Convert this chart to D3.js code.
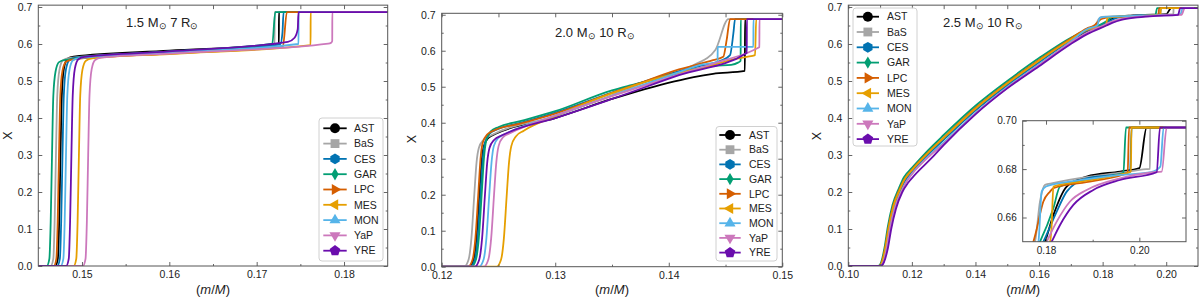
<!DOCTYPE html>
<html>
<head>
<meta charset="utf-8">
<script src="https://cdn.jsdelivr.net/npm/d3@7"></script>
<style>
  body { margin: 0; background: #fff; }
  svg { display: block; font-family: "Liberation Sans", Arial, sans-serif; }
</style>
</head>
<body>
<div class="fig"></div>
<script>
// models, legend order
var models = ["AST", "BaS", "CES", "GAR", "LPC", "MES", "MON", "YaP", "YRE"];
var palette = ["#000000", "#a6a6a6", "#0173b2", "#029e73", "#d55e00", "#e69f00", "#56b4e9", "#cc78bc", "#6a0dad"];
var shapes = ["circle", "square", "hexagon", "thin_diamond", "tri_right", "tri_left", "tri_up", "tri_down", "pentagon"];

// panel titles: [mass, radius]
var titles = [["1.5", "7"], ["2.0", "10"], ["2.5", "10"]];

// ticks
var yTicks = [0, 0.1, 0.2, 0.3, 0.4, 0.5, 0.6, 0.7];
var yMinor = [0.05, 0.15, 0.25, 0.35, 0.45, 0.55, 0.65];
var p15XTicks = [0.15, 0.16, 0.17, 0.18];
var p15XMinor = [0.155, 0.165, 0.175];
var p20XTicks = [0.12, 0.13, 0.14, 0.15];
var p20XMinor = [0.125, 0.135, 0.145];
var p25XTicks = [0.10, 0.12, 0.14, 0.16, 0.18, 0.20];
var p25XMinor = [0.11, 0.13, 0.15, 0.17, 0.19];
var insetXTicks = [0.18, 0.20];
var insetXMinor = [0.19];
var insetYTicks = [0.66, 0.68, 0.70];
var insetYMinor = [0.67, 0.69];

// 1.5 Msun, 7 Rsun : [m/M, X]
var p15_AST = [[0.145,0],[0.14694,0],[0.14724,0.02],[0.14739,0.12],[0.14754,0.3],[0.14769,0.46],[0.14794,0.535],[0.14834,0.56],[0.14904,0.566],[0.16,0.582],[0.17254,0.600],[0.17255,0.686],[0.185,0.686]];
var p15_BaS = [[0.145,0],[0.14642,0],[0.14672,0.02],[0.14687,0.12],[0.14702,0.3],[0.14717,0.46],[0.14742,0.53],[0.14782,0.556],[0.14852,0.562],[0.16,0.579],[0.17205,0.596],[0.17206,0.686],[0.185,0.686]];
var p15_CES = [[0.145,0],[0.14717,0],[0.14747,0.02],[0.14762,0.12],[0.14777,0.3],[0.14792,0.46],[0.14817,0.532],[0.14857,0.557],[0.14927,0.563],[0.16,0.579],[0.1727,0.599],[0.17295,0.63],[0.17308,0.686],[0.185,0.686]];
var p15_GAR = [[0.145,0],[0.14597,0],[0.14627,0.02],[0.14642,0.12],[0.14657,0.3],[0.14672,0.46],[0.14697,0.525],[0.14737,0.551],[0.14807,0.557],[0.16,0.579],[0.17179,0.601],[0.17213,0.686],[0.185,0.686]];
var p15_LPC = [[0.145,0],[0.14677,0],[0.14707,0.02],[0.14722,0.12],[0.14737,0.3],[0.14752,0.46],[0.14777,0.528],[0.14817,0.552],[0.14887,0.558],[0.16,0.574],[0.173,0.593],[0.17346,0.686],[0.185,0.686]];
var p15_MES = [[0.145,0],[0.14905,0],[0.14935,0.02],[0.1495,0.12],[0.14965,0.3],[0.1498,0.46],[0.15005,0.53],[0.15045,0.555],[0.15115,0.561],[0.16,0.573],[0.17617,0.597],[0.17618,0.686],[0.185,0.686]];
var p15_MON = [[0.145,0],[0.14757,0],[0.14787,0.02],[0.14802,0.12],[0.14817,0.3],[0.14832,0.46],[0.14857,0.53],[0.14897,0.556],[0.14967,0.562],[0.16,0.577],[0.17479,0.600],[0.1748,0.686],[0.185,0.686]];
var p15_YaP = [[0.145,0],[0.15011,0],[0.15041,0.02],[0.15056,0.12],[0.15071,0.3],[0.15086,0.46],[0.15111,0.532],[0.15151,0.557],[0.15221,0.563],[0.16,0.574],[0.1782,0.601],[0.1785,0.603],[0.17865,0.608],[0.17866,0.686],[0.185,0.686]];
var p15_YRE = [[0.145,0],[0.14819,0],[0.14849,0.02],[0.14864,0.12],[0.14879,0.3],[0.14894,0.46],[0.14919,0.534],[0.14959,0.559],[0.15029,0.565],[0.16,0.58],[0.17357,0.606],[0.17434,0.617],[0.1747,0.64],[0.17479,0.686],[0.185,0.686]];

// 2.0 Msun, 10 Rsun
var p20_AST = [[0.12,0],[0.12241,0],[0.12281,0.02],[0.12306,0.08],[0.12331,0.2],[0.12351,0.29],[0.12371,0.335],[0.12411,0.358],[0.12481,0.37],[0.13,0.413],[0.135,0.466],[0.1405,0.515],[0.1422,0.527],[0.1439,0.536],[0.1467,0.544],[0.14672,0.688],[0.15,0.688]];
var p20_BaS = [[0.12,0],[0.12197,0],[0.12237,0.02],[0.12262,0.08],[0.12287,0.2],[0.12307,0.29],[0.12327,0.33],[0.12367,0.352],[0.12437,0.365],[0.13,0.418],[0.135,0.477],[0.139,0.525],[0.1422,0.56],[0.1441,0.602],[0.14525,0.688],[0.15,0.688]];
var p20_CES = [[0.12,0],[0.12252,0],[0.12292,0.02],[0.12317,0.08],[0.12342,0.2],[0.12362,0.3],[0.12382,0.345],[0.12422,0.37],[0.12492,0.382],[0.127,0.4],[0.13,0.428],[0.135,0.484],[0.14,0.535],[0.1425,0.556],[0.1445,0.571],[0.1454,0.588],[0.14569,0.648],[0.14584,0.688],[0.15,0.688]];
var p20_GAR = [[0.12,0],[0.12262,0],[0.12302,0.02],[0.12327,0.08],[0.12352,0.2],[0.12372,0.3],[0.12392,0.35],[0.12432,0.376],[0.12502,0.388],[0.127,0.405],[0.13,0.432],[0.135,0.49],[0.1365,0.503],[0.14,0.53],[0.1425,0.55],[0.144,0.558],[0.1455,0.561],[0.1461,0.567],[0.14633,0.572],[0.14634,0.688],[0.15,0.688]];
var p20_LPC = [[0.12,0],[0.12232,0],[0.12272,0.02],[0.12297,0.08],[0.12322,0.2],[0.12342,0.3],[0.12362,0.345],[0.12402,0.368],[0.12472,0.38],[0.127,0.398],[0.13,0.425],[0.135,0.483],[0.137,0.505],[0.1409,0.548],[0.1439,0.574],[0.1448,0.583],[0.1451,0.63],[0.1454,0.688],[0.15,0.688]];
var p20_MES = [[0.12,0],[0.12483,0],[0.12523,0.02],[0.12548,0.08],[0.12573,0.2],[0.12593,0.29],[0.12613,0.335],[0.12653,0.362],[0.12723,0.378],[0.13,0.418],[0.135,0.482],[0.14,0.532],[0.1439,0.56],[0.1454,0.574],[0.14687,0.583],[0.1476,0.588],[0.1477,0.688],[0.15,0.688]];
var p20_MON = [[0.12,0],[0.12329,0],[0.12369,0.02],[0.12394,0.08],[0.12419,0.2],[0.12439,0.29],[0.12459,0.335],[0.12499,0.358],[0.12569,0.37],[0.13,0.42],[0.135,0.475],[0.14,0.53],[0.143,0.562],[0.1443,0.569],[0.14431,0.611],[0.14745,0.611],[0.14746,0.688],[0.15,0.688]];
var p20_YaP = [[0.12,0],[0.12371,0],[0.12411,0.02],[0.12436,0.08],[0.12461,0.2],[0.12481,0.29],[0.12501,0.335],[0.12541,0.36],[0.12611,0.372],[0.13,0.42],[0.135,0.474],[0.14,0.525],[0.1445,0.57],[0.147,0.595],[0.1478,0.607],[0.14798,0.61],[0.14799,0.688],[0.15,0.688]];
var p20_YRE = [[0.12,0],[0.12291,0],[0.12331,0.02],[0.12356,0.08],[0.12381,0.2],[0.12401,0.29],[0.12421,0.33],[0.12461,0.352],[0.12531,0.365],[0.126,0.375],[0.13,0.413],[0.135,0.466],[0.1409,0.532],[0.14687,0.594],[0.14688,0.688],[0.15,0.688]];

// 2.5 Msun, 10 Rsun
var p25_AST = [[0.1,0],[0.1098,0],[0.1108,0.012],[0.1118,0.05],[0.1128,0.103],[0.1143,0.162],[0.1163,0.205],[0.1178,0.232],[0.12,0.256],[0.125,0.302],[0.13,0.343],[0.14,0.422],[0.15,0.49],[0.16,0.552],[0.17,0.61],[0.175,0.634],[0.17979,0.65],[0.18157,0.661],[0.18443,0.6728],[0.18871,0.6769],[0.19586,0.679],[0.2,0.6804],[0.20157,0.6972],[0.21,0.6972]];
var p25_BaS = [[0.1,0],[0.1098,0],[0.1108,0.012],[0.1118,0.05],[0.1128,0.103],[0.1143,0.162],[0.1163,0.206],[0.1178,0.233],[0.12,0.256],[0.125,0.302],[0.13,0.343],[0.14,0.423],[0.15,0.491],[0.16,0.553],[0.17,0.612],[0.175,0.64],[0.17764,0.65],[0.17871,0.6666],[0.17979,0.6735],[0.1814,0.6742],[0.19,0.677],[0.196,0.6785],[0.2015,0.68],[0.20228,0.6801],[0.20229,0.6972],[0.21,0.6972]];
var p25_CES = [[0.1,0],[0.1099,0],[0.1109,0.012],[0.1119,0.05],[0.1129,0.102],[0.1144,0.16],[0.1164,0.204],[0.1179,0.23],[0.12,0.253],[0.125,0.3],[0.13,0.341],[0.14,0.421],[0.15,0.489],[0.16,0.551],[0.17,0.61],[0.175,0.636],[0.17943,0.65],[0.18229,0.6624],[0.18443,0.6707],[0.18871,0.6762],[0.19586,0.6779],[0.198,0.6787],[0.19836,0.6972],[0.21,0.6972]];
var p25_GAR = [[0.1,0],[0.1094,0],[0.1104,0.012],[0.1114,0.05],[0.1124,0.105],[0.1139,0.165],[0.1159,0.21],[0.1175,0.24],[0.12,0.265],[0.125,0.312],[0.13,0.354],[0.14,0.433],[0.15,0.5],[0.16,0.562],[0.17,0.617],[0.175,0.638],[0.17871,0.65],[0.18157,0.6638],[0.183,0.6728],[0.19,0.676],[0.19657,0.6783],[0.19714,0.6972],[0.21,0.6972]];
var p25_LPC = [[0.1,0],[0.1096,0],[0.1106,0.012],[0.1116,0.05],[0.1126,0.103],[0.1141,0.162],[0.1161,0.207],[0.1177,0.235],[0.12,0.26],[0.125,0.306],[0.13,0.347],[0.14,0.427],[0.15,0.495],[0.16,0.557],[0.17,0.615],[0.175,0.642],[0.17729,0.65],[0.17786,0.6541],[0.17943,0.6666],[0.18086,0.6707],[0.18157,0.6721],[0.19,0.675],[0.1975,0.6785],[0.1978,0.6972],[0.21,0.6972]];
var p25_MES = [[0.1,0],[0.1097,0],[0.1107,0.012],[0.1117,0.05],[0.1127,0.103],[0.1142,0.161],[0.1162,0.206],[0.1177,0.234],[0.12,0.259],[0.125,0.305],[0.13,0.346],[0.14,0.425],[0.15,0.493],[0.16,0.555],[0.17,0.612],[0.175,0.638],[0.18086,0.65],[0.18121,0.6569],[0.18157,0.6728],[0.188,0.675],[0.1955,0.6776],[0.1982,0.679],[0.1983,0.6972],[0.21,0.6972]];
var p25_MON = [[0.1,0],[0.1101,0],[0.1111,0.011],[0.1121,0.048],[0.1131,0.1],[0.1146,0.156],[0.1166,0.2],[0.1181,0.226],[0.12,0.249],[0.125,0.295],[0.13,0.333],[0.14,0.414],[0.15,0.484],[0.16,0.545],[0.17,0.607],[0.175,0.64],[0.17836,0.65],[0.17907,0.6707],[0.18,0.6728],[0.185,0.6748],[0.19,0.6762],[0.196,0.6776],[0.2025,0.6787],[0.2045,0.681],[0.2052,0.6972],[0.21,0.6972]];
var p25_YaP = [[0.1,0],[0.1101,0],[0.1111,0.011],[0.1121,0.048],[0.1131,0.099],[0.1146,0.155],[0.1166,0.199],[0.1181,0.225],[0.12,0.248],[0.125,0.293],[0.13,0.33],[0.14,0.412],[0.15,0.482],[0.16,0.543],[0.17,0.604],[0.175,0.63],[0.18014,0.65],[0.18229,0.6583],[0.18514,0.6666],[0.18871,0.6714],[0.19586,0.6762],[0.203,0.6787],[0.2048,0.679],[0.20586,0.6972],[0.21,0.6972]];
var p25_YRE = [[0.1,0],[0.1102,0],[0.1112,0.01],[0.1125,0.05],[0.1135,0.1],[0.115,0.155],[0.117,0.2],[0.1188,0.225],[0.121,0.247],[0.126,0.29],[0.13,0.327],[0.14,0.41],[0.15,0.48],[0.16,0.54],[0.17,0.6],[0.175,0.626],[0.18121,0.65],[0.183,0.6569],[0.18586,0.6652],[0.19014,0.6714],[0.19586,0.6755],[0.20371,0.6787],[0.20443,0.6972],[0.21,0.6972]];

var p15Series = [p15_AST, p15_BaS, p15_CES, p15_GAR, p15_LPC, p15_MES, p15_MON, p15_YaP, p15_YRE];
var p20Series = [p20_AST, p20_BaS, p20_CES, p20_GAR, p20_LPC, p20_MES, p20_MON, p20_YaP, p20_YRE];
var p25Series = [p25_AST, p25_BaS, p25_CES, p25_GAR, p25_LPC, p25_MES, p25_MON, p25_YaP, p25_YRE];

var color = d3.scaleOrdinal().domain(models).range(palette);
var frameColor = "#555";
var textColor = "#222";

var svg = d3.select(".fig").append("svg")
    .attr("width", 1200)
    .attr("height", 300);

var clipId = 0;

function polygon(n, r, start) {
    var pts = d3.range(n).map(function (i) {
        var a = (start + i * 360 / n) * Math.PI / 180;
        return [r * Math.cos(a), r * Math.sin(a)];
    });
    return "M" + pts.join("L") + "Z";
}

function markerPath(shape) {
    switch (shape) {
        case "circle": return d3.symbol(d3.symbolCircle, 78)();
        case "square": return d3.symbol(d3.symbolSquare, 78)();
        case "hexagon": return polygon(6, 5.4, -90);
        case "pentagon": return polygon(5, 5.6, -90);
        case "thin_diamond": return "M0,-6.2L3.6,0L0,6.2L-3.6,0Z";
        case "tri_up": return polygon(3, 6.4, -90);
        case "tri_down": return polygon(3, 6.4, 90);
        case "tri_right": return polygon(3, 6.4, 0);
        case "tri_left": return polygon(3, 6.4, 180);
    }
}

function styleAxis(sel, fontSize) {
    sel.select(".domain").remove();
    sel.selectAll(".tick line").attr("stroke", frameColor).attr("stroke-width", 0.9);
    sel.selectAll(".tick text")
        .attr("fill", textColor)
        .attr("font-size", fontSize)
        .attr("font-family", "Liberation Sans, Arial, sans-serif");
}

// frame + inward ticks on all four sides
function drawAxes(g, x, y, c, fontSize, xFmt, yFmt) {
    var major = 4, minor = 2;
    g.append("g").attr("transform", "translate(0," + c.bottom + ")")
        .call(d3.axisBottom(x).tickValues(c.xTicks).tickSize(-major).tickPadding(5).tickFormat(d3.format(xFmt)))
        .call(styleAxis, fontSize);
    g.append("g").attr("transform", "translate(0," + c.bottom + ")")
        .call(d3.axisBottom(x).tickValues(c.xMinor).tickSize(-minor).tickFormat(""))
        .call(styleAxis, fontSize);
    g.append("g").attr("transform", "translate(0," + c.top + ")")
        .call(d3.axisTop(x).tickValues(c.xTicks.concat(c.xMinor)).tickSize(-major).tickFormat(""))
        .call(styleAxis, fontSize);
    g.append("g").attr("transform", "translate(" + c.left + ",0)")
        .call(d3.axisLeft(y).tickValues(c.yTicks).tickSize(-major).tickPadding(6).tickFormat(d3.format(yFmt)))
        .call(styleAxis, fontSize);
    g.append("g").attr("transform", "translate(" + c.left + ",0)")
        .call(d3.axisLeft(y).tickValues(c.yMinor).tickSize(-minor).tickFormat(""))
        .call(styleAxis, fontSize);
    g.append("g").attr("transform", "translate(" + c.right + ",0)")
        .call(d3.axisRight(y).tickValues(c.yTicks).tickSize(-major).tickFormat(""))
        .call(styleAxis, fontSize);
    g.append("g").attr("transform", "translate(" + c.right + ",0)")
        .call(d3.axisRight(y).tickValues(c.yMinor).tickSize(-minor).tickFormat(""))
        .call(styleAxis, fontSize);
    g.append("rect")
        .attr("x", c.left).attr("y", c.top)
        .attr("width", c.right - c.left).attr("height", c.bottom - c.top)
        .attr("fill", "none").attr("stroke", frameColor).attr("stroke-width", 1);
}

function drawCurves(g, x, y, c, series, bg) {
    var id = "clip" + (clipId++);
    g.append("clipPath").attr("id", id).append("rect")
        .attr("x", c.left).attr("y", c.top)
        .attr("width", c.right - c.left).attr("height", c.bottom - c.top);
    if (bg) {
        g.append("rect")
            .attr("x", c.left).attr("y", c.top)
            .attr("width", c.right - c.left).attr("height", c.bottom - c.top)
            .attr("fill", bg);
    }
    var line = d3.line()
        .x(d => x(d[0]))
        .y(d => y(d[1]))
        .curve(d3.curveMonotoneX);
    g.append("g")
        .attr("clip-path", "url(#" + id + ")")
        .attr("fill", "none")
        .attr("stroke-width", 1.8)
        .attr("stroke-linejoin", "round")
        .selectAll("path")
        .data(series)
        .join("path")
        .attr("stroke", (d, i) => color(models[i]))
        .attr("d", line);
}

function drawLegend(g, L) {
    g.append("rect")
        .attr("x", L.x0).attr("y", L.y0)
        .attr("width", L.x1 - L.x0).attr("height", L.y1 - L.y0)
        .attr("rx", 3)
        .attr("fill", "#fff").attr("fill-opacity", 0.85)
        .attr("stroke", "#d0d0d0").attr("stroke-width", 1);
    var row = g.append("g").selectAll("g")
        .data(models)
        .join("g")
        .attr("transform", (d, i) => "translate(0," + (L.first + i * L.step) + ")");
    row.append("line")
        .attr("x1", L.lx0).attr("x2", L.lx1)
        .attr("stroke", d => color(d)).attr("stroke-width", 1.8);
    row.append("path")
        .attr("transform", "translate(" + ((L.lx0 + L.lx1) / 2) + ",0)")
        .attr("d", (d, i) => markerPath(shapes[i]))
        .attr("fill", d => color(d));
    row.append("text")
        .attr("x", L.tx)
        .attr("dy", "0.36em")
        .attr("font-size", 10.5)
        .attr("fill", textColor)
        .text(d => d);
}

function drawTitle(g, t, px, py) {
    var text = g.append("text")
        .attr("x", px).attr("y", py)
        .attr("font-size", 13)
        .attr("fill", textColor);
    text.append("tspan").text(t[0] + " M");
    text.append("tspan").attr("font-size", 9).attr("dy", 2.5).text("\u2299");
    text.append("tspan").attr("dy", -2.5).text(" " + t[1] + " R");
    text.append("tspan").attr("font-size", 9).attr("dy", 2.5).text("\u2299");
}

function drawLabels(g, c, yx, yy) {
    var xl = g.append("text")
        .attr("x", (c.left + c.right) / 2).attr("y", 294)
        .attr("text-anchor", "middle")
        .attr("font-size", 13)
        .attr("fill", textColor);
    xl.append("tspan").text("(");
    xl.append("tspan").attr("font-style", "italic").text("m");
    xl.append("tspan").text("/");
    xl.append("tspan").attr("font-style", "italic").text("M");
    xl.append("tspan").text(")");
    g.append("text")
        .attr("transform", "translate(" + yx + "," + yy + ") rotate(-90)")
        .attr("text-anchor", "middle")
        .attr("font-size", 12.5)
        .attr("fill", textColor)
        .text("X");
}

function drawPanel(c) {
    var g = svg.append("g");
    var x = d3.scaleLinear().domain(c.xDomain).range([c.left, c.right]);
    var y = d3.scaleLinear().domain(c.yDomain).range([c.bottom, c.top]);
    drawCurves(g, x, y, c, c.series);
    drawAxes(g, x, y, c, 10.5, ".2f", ".1f");
    drawTitle(g, c.title, c.titleX, c.titleY);
    drawLabels(g, c, c.labelX, c.labelY);
    return g;
}

//panel 1
var g1 = drawPanel({
    left: 38.3, right: 387.7, top: 5.15, bottom: 266,
    xDomain: [0.145, 0.185], yDomain: [0, 0.705],
    xTicks: p15XTicks, xMinor: p15XMinor, yTicks: yTicks, yMinor: yMinor,
    series: p15Series, title: titles[0], titleX: 126, titleY: 26.7,
    labelX: 12, labelY: 135.5
});
drawLegend(g1, { x0: 319, x1: 383, y0: 118, y1: 261, first: 128.3, step: 15.3, lx0: 323.3, lx1: 346.7, tx: 354 });

//panel 2
var g2 = drawPanel({
    left: 441.7, right: 782.3, top: 13.3, bottom: 266.7,
    xDomain: [0.12, 0.15], yDomain: [0, 0.704],
    xTicks: p20XTicks, xMinor: p20XMinor, yTicks: yTicks, yMinor: yMinor,
    series: p20Series, title: titles[1], titleX: 555, titleY: 36.5,
    labelX: 416, labelY: 139
});
drawLegend(g2, { x0: 716, x1: 777, y0: 126.5, y1: 261, first: 135, step: 14.7, lx0: 719.3, lx1: 740.7, tx: 749 });

//panel 3
var c3 = {
    left: 848.3, right: 1198, top: 5.15, bottom: 266,
    xDomain: [0.10, 0.21], yDomain: [0, 0.705],
    xTicks: p25XTicks, xMinor: p25XMinor, yTicks: yTicks, yMinor: yMinor,
    series: p25Series, title: titles[2], titleX: 943, titleY: 26.7,
    labelX: 821, labelY: 136
};
var g3 = drawPanel(c3);
drawLegend(g3, { x0: 853, x1: 917, y0: 8, y1: 146, first: 16.7, step: 15.3, lx0: 856.7, lx1: 879, tx: 887 });

//inset
var ci = {
    left: 1022.7, right: 1186, top: 120.7, bottom: 241.7,
    xTicks: insetXTicks, xMinor: insetXMinor, yTicks: insetYTicks, yMinor: insetYMinor
};
var xi = d3.scaleLinear().domain([0.175, 0.21]).range([ci.left, ci.right]);
var yi = d3.scaleLinear().domain([0.65, 0.70]).range([ci.bottom, ci.top]);
var gi = svg.append("g");
drawCurves(gi, xi, yi, ci, p25Series, "#fff");
drawAxes(gi, xi, yi, ci, 10, ".2f", ".2f");
</script>
</body>
</html>
